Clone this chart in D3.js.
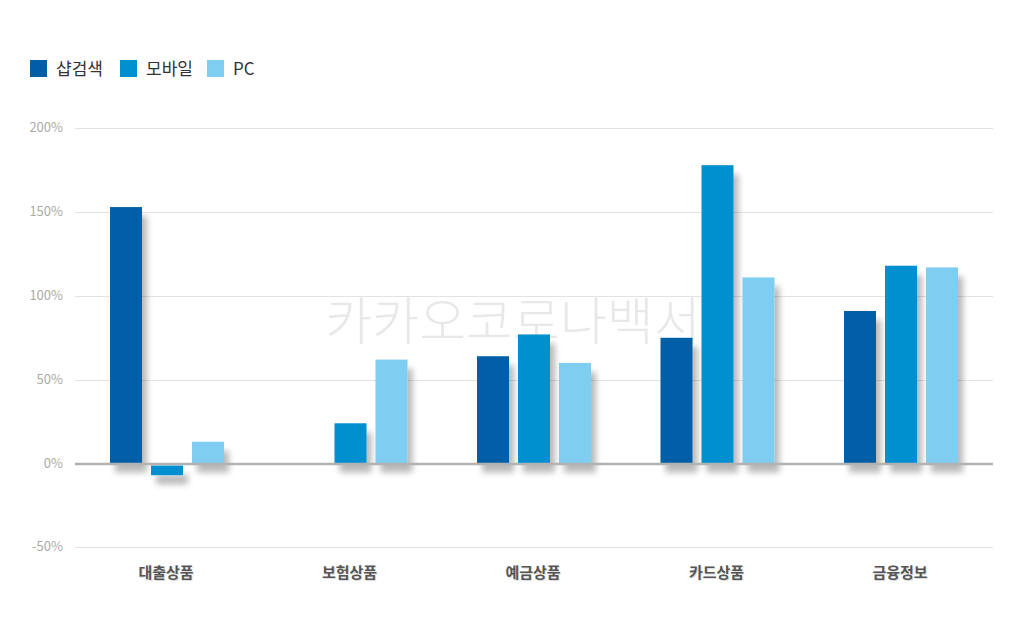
<!DOCTYPE html>
<html><head><meta charset="utf-8">
<script src="https://cdn.jsdelivr.net/npm/d3@7/dist/d3.min.js"></script>
<style>
body{margin:0;background:#fff;font-family:"Noto Sans CJK KR","Noto Sans",sans-serif;}
</style></head>
<body><svg id="c" width="1024" height="643"></svg>
<script>
const categories = ["대출상품","보험상품","예금상품","카드상품","금융정보"];
const seriesNames = ["샵검색","모바일","PC"];
const shopSearch = [153, 0, 64, 75, 91];
const mobile = [-7, 24, 77, 178, 118];
const pc = [13, 62, 60, 111, 117];
const yTicks = [-50, 0, 50, 100, 150, 200];
const colors = ["#005ea6","#0090cf","#80cdf2"];
const seriesValues = [shopSearch, mobile, pc];

const svg = d3.select("#c");
const x = d3.scaleBand().domain(categories).range([75.25, 992.75]).paddingInner(0).paddingOuter(0);
const y = d3.scaleLinear().domain([-50, 200]).range([547.3, 128.3]);
const barW = 32, gap = 9;

const defs = svg.append("defs");
const f = defs.append("filter").attr("id","sh").attr("x","-50%").attr("y","-50%").attr("width","200%").attr("height","200%");
f.append("feGaussianBlur").attr("in","SourceAlpha").attr("stdDeviation",3).attr("result","b");
f.append("feOffset").attr("in","b").attr("dx",5).attr("dy",9).attr("result","o");
f.append("feComponentTransfer").attr("in","o").attr("result","t").append("feFuncA").attr("type","linear").attr("slope",0.28);
const m = f.append("feMerge"); m.append("feMergeNode").attr("in","t"); m.append("feMergeNode").attr("in","SourceGraphic");

// watermark
svg.append("text").attr("x",513).attr("y",340).attr("text-anchor","middle")
  .attr("font-size",51).attr("font-weight",200).attr("fill","#e8e8e8")
  .attr("font-family","'Noto Sans CJK KR'").text("카카오코로나백서");

// gridlines
svg.append("g").selectAll("line").data(yTicks.filter(d=>d!==0)).join("line")
  .attr("x1",75).attr("x2",993).attr("y1",d=>Math.round(y(d))+0.5).attr("y2",d=>Math.round(y(d))+0.5)
  .attr("stroke","#e3e3e3").attr("stroke-width",1);

// y tick labels
svg.append("g").selectAll("text").data(yTicks).join("text")
  .attr("x",63).attr("y",d=>y(d)+4).attr("text-anchor","end")
  .attr("font-size",13).attr("fill","#aaaaaa").text(d=>d+"%");

// bars
seriesValues.forEach((vals,si)=>{
  svg.append("g").attr("filter","url(#sh)").selectAll("rect").data(vals.map((v,i)=>({v,c:categories[i]})).filter(d=>d.v!==0)).join("rect")
    .attr("x",d=>x(d.c)+x.bandwidth()/2 - barW*1.5 - gap + si*(barW+gap))
    .attr("width",barW)
    .attr("y",d=>d.v>=0?y(d.v):y(0)+2)
    .attr("height",d=>d.v>=0?y(0)-y(d.v):y(d.v)-y(0)-2)
    .attr("fill",colors[si]);
});

// zero line
svg.append("line").attr("x1",75).attr("x2",993).attr("y1",y(0)+0.5).attr("y2",y(0)+0.5)
  .attr("stroke","#b2b2b2").attr("stroke-width",2.6);

// x labels
svg.append("g").selectAll("text").data(categories).join("text")
  .attr("x",d=>x(d)+x.bandwidth()/2-1).attr("y",578).attr("text-anchor","middle")
  .attr("font-size",15).attr("font-weight",700).attr("fill","#555")
  .style("text-shadow","1px 1px 1px rgba(0,0,0,0.15)").text(d=>d);

// legend
const lx = [30, 120, 207];
const lg = svg.append("g").selectAll("g").data(seriesNames).join("g")
  .attr("transform",(d,i)=>`translate(${lx[i]},60)`);
lg.append("rect").attr("width",17).attr("height",17).attr("fill",(d,i)=>colors[i]);
lg.append("text").attr("x",26).attr("y",15).attr("font-size",17).attr("fill","#333").text(d=>d);
</script></body></html>
